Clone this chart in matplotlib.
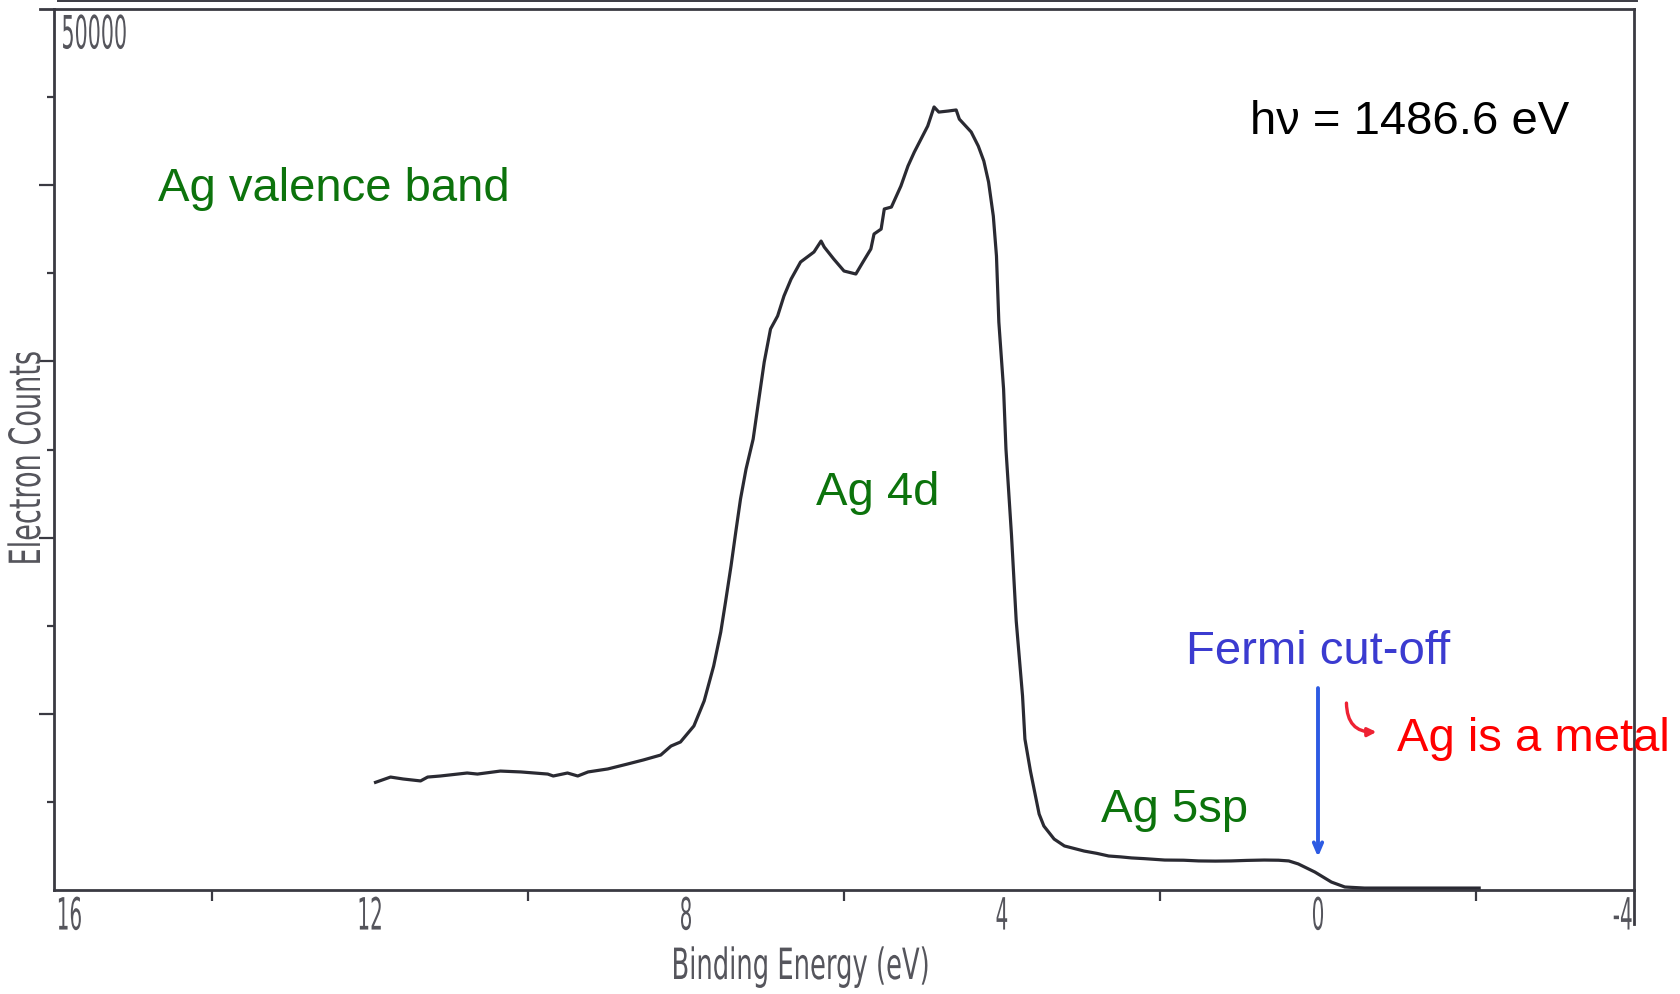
import matplotlib
matplotlib.use("Agg")
import matplotlib.pyplot as plt
from matplotlib.patheffects import AbstractPathEffect
from matplotlib.transforms import Affine2D
from matplotlib.lines import Line2D
from matplotlib.ticker import FixedLocator

# Ag valence band XPS spectrum (binding energy in eV, electron counts)
binding_energy = [
    11.93, 11.74, 11.58, 11.36, 11.27, 11.11, 10.77, 10.64, 10.35, 10.09,
    9.75, 9.68, 9.50, 9.37, 9.24, 8.99, 8.74, 8.54, 8.32, 8.19,
    8.07, 7.90, 7.77, 7.65, 7.56, 7.50, 7.43, 7.37, 7.31, 7.24,
    7.15, 7.09, 7.01, 6.93, 6.84, 6.76, 6.67, 6.55, 6.38, 6.29,
    6.25, 6.13, 6.00, 5.85, 5.76, 5.66, 5.62, 5.53, 5.49, 5.40,
    5.28, 5.19, 5.11, 4.94, 4.86, 4.80, 4.68, 4.58, 4.54, 4.39,
    4.30, 4.23, 4.17, 4.11, 4.07, 4.04, 3.98, 3.95, 3.88, 3.82,
    3.74, 3.71, 3.64, 3.53, 3.47, 3.34, 3.21, 2.96, 2.80, 2.65,
    2.50, 2.36, 2.20, 1.94, 1.70, 1.51, 1.30, 1.10, 0.90, 0.68,
    0.50, 0.37, 0.25, 0.04, -0.17, -0.34, -0.59, -2.04,
]
counts = [
    6110, 6410, 6300, 6190, 6410, 6470, 6640, 6580, 6750, 6700,
    6580, 6470, 6640, 6470, 6700, 6870, 7150, 7380, 7660, 8170,
    8400, 9310, 10730, 12710, 14640, 16340, 18390, 20320, 22190, 23890,
    25590, 27470, 29960, 31840, 32580, 33710, 34670, 35640, 36210, 36830,
    36490, 35810, 35130, 34960, 35640, 36380, 37230, 37510, 38650, 38760,
    39950, 41090, 41880, 43360, 44440, 44150, 44210, 44270, 43750, 43020,
    42220, 41370, 40180, 38250, 35980, 32230, 28430, 25030, 20150, 15270,
    11010, 8570, 6750, 4310, 3630, 2890, 2500, 2210, 2080, 1930,
    1880, 1820, 1780, 1700, 1690, 1650, 1640, 1650, 1680, 1700,
    1690, 1650, 1480, 1020, 450, 170, 110, 110,
]

x_label_values = [16, 12, 8, 4, 0, -4]
x_labels = ["16", "12", "8", "4", "0", "-4"]
x_minor_values = [14, 10, 6, 2, -2]
y_major_values = [10000, 20000, 30000, 40000]
y_minor_values = [5000, 15000, 25000, 35000, 45000]
y_top_label = "50000"

fermi_energy = 0.0
fermi_arrow_counts = (11460, 1870)


class Narrow(AbstractPathEffect):
    """Squeeze glyphs along the text direction, like a plotter font."""

    def __init__(self, sx, anchor="center"):
        super().__init__()
        self._sx = sx
        self._anchor = anchor

    def draw_path(self, renderer, gc, tpath, affine, rgbFace=None):
        ext = tpath.get_extents()
        if self._anchor == "left":
            cx = ext.x0
        elif self._anchor == "right":
            cx = ext.x1
        else:
            cx = 0.5 * (ext.x0 + ext.x1)
        squeeze = Affine2D().translate(-cx, 0).scale(self._sx, 1).translate(cx, 0)
        renderer.draw_path(gc, tpath, squeeze + affine, rgbFace)


W, H = 1681, 995
fig = plt.figure(figsize=(W / 100, H / 100), dpi=100)
fig.patch.set_facecolor("white")
ax = fig.add_axes([54 / W, 1 - 891 / H, 1580 / W, 881 / H])

axis_color = "#3a3a42"
label_color = "#55555c"
green = "#0c730c"
sans = ["Liberation Sans", "DejaVu Sans"]

ax.plot(binding_energy, counts, color="#2a2a32", lw=2.3,
        solid_joinstyle="round", zorder=3)
ax.set_xlim(16, -4)
ax.set_ylim(0, 50000)

for side in ("left", "right", "top", "bottom"):
    ax.spines[side].set_color(axis_color)
    ax.spines[side].set_linewidth(2.0)

# x axis: labelled positions without marks, small marks in between
ax.set_xticks(x_label_values)
ax.set_xticklabels(x_labels)
ax.xaxis.set_minor_locator(FixedLocator(x_minor_values))
ax.tick_params(axis="x", which="major", length=0, pad=4,
               labelsize=32, labelcolor=label_color)
ax.tick_params(axis="x", which="minor", length=8, width=1.6,
               color=axis_color, direction="out")
labels = ax.get_xticklabels()
for i, lbl in enumerate(labels):
    lbl.set_fontfamily("DejaVu Sans")
    if i == 0:
        lbl.set_horizontalalignment("left")
        lbl.set_path_effects([Narrow(0.45, "left")])
    elif i == len(labels) - 1:
        lbl.set_horizontalalignment("right")
        lbl.set_path_effects([Narrow(0.45, "right")])
    else:
        lbl.set_path_effects([Narrow(0.45, "center")])

# y axis: alternating long and short marks, no labels
ax.set_yticks(y_major_values)
ax.set_yticklabels([])
ax.yaxis.set_minor_locator(FixedLocator(y_minor_values))
ax.tick_params(axis="y", which="major", length=11, width=1.6,
               color=axis_color, direction="out")
ax.tick_params(axis="y", which="minor", length=5, width=1.6,
               color=axis_color, direction="out")

t = ax.text(15.93, 49750, y_top_label, ha="left", va="top", fontsize=33,
            family="DejaVu Sans", color=label_color)
t.set_path_effects([Narrow(0.45, "left")])

t = fig.text(800 / W, 1 - 968 / H, "Binding Energy (eV)", ha="center",
             va="center", fontsize=31, family="DejaVu Sans", color=label_color)
t.set_path_effects([Narrow(0.6, "center")])

t = fig.text(28 / W, 1 - 460 / H, "Electron Counts", ha="center", va="center",
             rotation=90, fontsize=31, family="DejaVu Sans", color=label_color)
t.set_path_effects([Narrow(0.63, "center")])

# frame lines of the recorder sheet
fig.add_artist(Line2D([58 / W, 1637 / W], [1 - 2 / H] * 2, color=axis_color,
                      lw=1.4, transform=fig.transFigure))
fig.add_artist(Line2D([40 / W, 54 / W], [1 - 10 / H] * 2, color=axis_color,
                      lw=2.0, transform=fig.transFigure))
fig.add_artist(Line2D([1634 / W] * 2, [1 - 891 / H, 1 - 925 / H],
                      color=axis_color, lw=2.0, transform=fig.transFigure))

# annotations
ax.text(14.68, 39840, "Ag valence band", ha="left", va="center",
        fontsize=34, family=sans, color=green)
ax.text(5.57, 22590, "Ag 4d", ha="center", va="center",
        fontsize=34, family=sans, color=green)
ax.text(1.82, 4600, "Ag 5sp", ha="center", va="center",
        fontsize=34, family=sans, color=green)
ax.text(0.855, 43640, "h\u03bd = 1486.6 eV", ha="left", va="center",
        fontsize=34, family=sans, color="black")
ax.text(fermi_energy, 13560, "Fermi cut-off", ha="center", va="center",
        fontsize=34, family=sans, color="#3b3bd0")
ax.text(-1.0, 8630, "Ag is a metal", ha="left", va="center",
        fontsize=34, family=sans, color="#ff0000", zorder=5)

ax.annotate("", xy=(fermi_energy, fermi_arrow_counts[1]),
            xytext=(fermi_energy, fermi_arrow_counts[0]),
            arrowprops=dict(arrowstyle="->,head_length=0.7,head_width=0.3",
                            color="#2d5be3", lw=2.8, shrinkA=0, shrinkB=0))
ax.annotate("", xy=(-0.74, 8970), xytext=(-0.36, 10610),
            arrowprops=dict(arrowstyle="-|>,head_length=0.5,head_width=0.25",
                            color="#ee2233", lw=2.4,
                            connectionstyle="arc3,rad=0.5",
                            shrinkA=0, shrinkB=0))

fig.savefig("out.png", dpi=100, facecolor="white")
